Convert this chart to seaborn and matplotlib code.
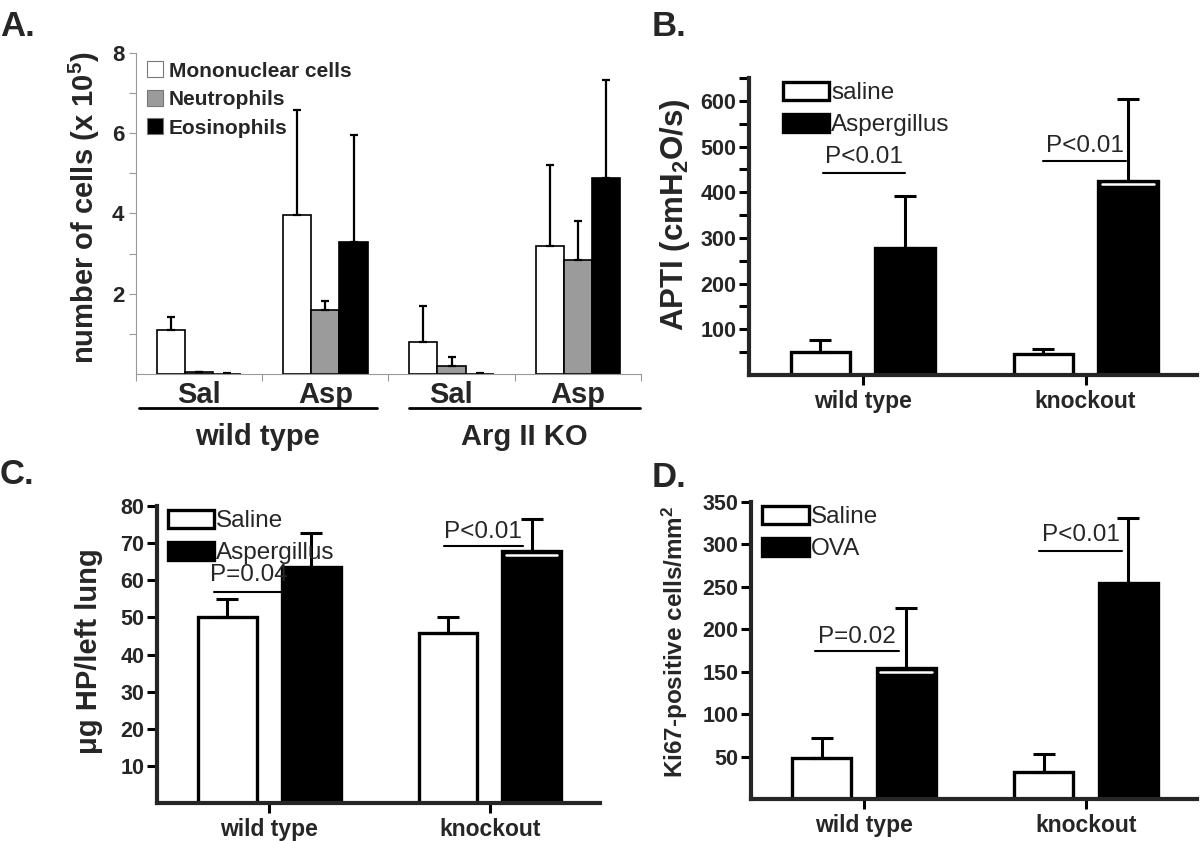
import matplotlib
matplotlib.use("Agg")
import matplotlib.pyplot as plt
from matplotlib.patches import Patch
import seaborn as sns
import pandas as pd

# Panel A: BAL cell counts (x 10^5)
a_groups = ["wt_sal", "wt_asp", "ko_sal", "ko_asp"]
a_ticklabels = ["Sal", "Asp", "Sal", "Asp"]
a_strains = ["wild type", "Arg II KO"]
a_cells = ["Mononuclear cells", "Neutrophils", "Eosinophils"]
a_colors = ["white", "#9b9b9b", "black"]
mono_mean = [1.09, 3.96, 0.80, 3.20]
mono_err = [0.34, 2.63, 0.90, 2.00]
neut_mean = [0.04, 1.59, 0.21, 2.85]
neut_err = [0.0, 0.23, 0.22, 0.96]
eos_mean = [0.0, 3.28, 0.0, 4.88]
eos_err = [0.03, 2.67, 0.03, 2.45]

# Panels B-D: wild type vs knockout
strains = ["wild type", "knockout"]

apti_sal = [51, 46]
apti_sal_err = [26, 12]
apti_asp = [277, 425]
apti_asp_err = [115, 179]
apti_p = ["P<0.01", "P<0.01"]

hp_sal = [50.0, 45.7]
hp_sal_err = [4.9, 4.3]
hp_asp = [63.7, 67.9]
hp_asp_err = [8.9, 8.7]
hp_p = ["P=0.04", "P<0.01"]

ki_sal = [48, 32]
ki_sal_err = [24, 21]
ki_ova = [155, 255]
ki_ova_err = [70, 76]
ki_p = ["P=0.02", "P<0.01"]

sns.set_style("ticks")
plt.rcParams["font.family"] = ["Liberation Sans", "DejaVu Sans"]
plt.rcParams["mathtext.default"] = "regular"

fig = plt.figure(figsize=(12, 8.41), dpi=100)


def add_upper_errors(ax, errs, lw, capsize):
    for cont, err in zip(ax.containers, errs):
        for bar, e in zip(cont, err):
            x = bar.get_x() + bar.get_width() / 2
            y = bar.get_height()
            ax.errorbar(x, y, yerr=[[0], [e]], fmt="none", ecolor="black",
                        elinewidth=lw, capsize=capsize, capthick=lw, zorder=1)


# ---------------- A ----------------
axA = fig.add_axes([0.1133, 0.5553, 0.4208, 0.3817])
dfA = pd.DataFrame({
    "group": a_groups * 3,
    "cell": [c for c in a_cells for _ in a_groups],
    "value": mono_mean + neut_mean + eos_mean,
})
sns.barplot(data=dfA, x="group", y="value", hue="cell", order=a_groups,
            hue_order=a_cells, palette=a_colors, width=0.67, gap=0,
            edgecolor="black", linewidth=1.2, errorbar=None, legend=False, ax=axA)
add_upper_errors(axA, [mono_err, neut_err, eos_err], 1.6, 3)
axA.set_xlim(-0.5, 3.5)
axA.set_ylim(0, 8)
axA.set_yticks([2, 4, 6, 8])
axA.set_yticks([1, 3, 5, 7], minor=True)
axA.set_xticks(range(4))
axA.set_xticklabels(a_ticklabels, fontsize=21, fontweight="bold")
axA.set_xticks([-0.5, 0.5, 1.5, 2.5, 3.5], minor=True)
axA.tick_params(axis="x", which="major", length=0, pad=5)
axA.tick_params(axis="x", which="minor", length=5, color="#999999", width=0.8)
axA.tick_params(axis="y", which="both", length=5, color="#999999", width=0.8,
                labelsize=16)
for t in axA.get_yticklabels():
    t.set_fontweight("bold")
for s in ["top", "right"]:
    axA.spines[s].set_visible(False)
for s in ["left", "bottom"]:
    axA.spines[s].set_color("#999999")
    axA.spines[s].set_linewidth(0.8)
axA.set_xlabel("")
axA.set_ylabel("number of cells (x 10$^{5}$)", fontsize=21, fontweight="bold")
axA.yaxis.set_label_coords(-0.068, 0.517)
# strain lines and labels under the Sal/Asp labels
for i, name in enumerate(a_strains):
    x0, x1 = (0.006, 0.477) if i == 0 else (0.541, 0.998)
    axA.plot([x0, x1], [-0.106, -0.106], transform=axA.transAxes,
             color="black", lw=2, clip_on=False)
    axA.text((x0 + x1) / 2, -0.196, name, transform=axA.transAxes,
             ha="center", va="center", fontsize=21, fontweight="bold")
handlesA = [Patch(facecolor=c, edgecolor="#777777", linewidth=0.8) for c in a_colors]
axA.legend(handlesA, a_cells, loc="upper left", bbox_to_anchor=(0.005, 1.0),
           frameon=False, prop={"size": 15, "weight": "bold"},
           handlelength=0.8, handleheight=0.8, handletextpad=0.25, labelspacing=0.45,
           borderaxespad=0.0)


# ---------------- B, C, D ----------------
def two_group_panel(rect, means, errs, treat, ylim, majors, minors, ylabel,
                    ylabel_size, ylabel_xy, pvals, p_text_y, p_line, white_hue,
                    white_off, leg_x):
    ax = fig.add_axes(rect)
    df = pd.DataFrame({
        "strain": strains * 2,
        "treat": [t for t in treat for _ in strains],
        "value": means[0] + means[1],
    })
    sns.barplot(data=df, x="strain", y="value", hue="treat", order=strains,
                hue_order=treat, palette=["white", "black"], width=0.76, gap=0.3,
                edgecolor="black", linewidth=2.4, errorbar=None, legend=False, ax=ax)
    add_upper_errors(ax, errs, 2.2, 8)
    # thin white mark just under the top of some black bars
    for j, flag in enumerate(white_hue):
        if flag:
            bar = ax.containers[1][j]
            x0 = bar.get_x() + bar.get_width() * 0.06
            x1 = bar.get_x() + bar.get_width() * 0.94
            ax.plot([x0, x1], [bar.get_height() - white_off] * 2, color="white",
                    lw=1.8, zorder=3)
    ax.set_xlim(-0.51, 1.5)
    ax.set_ylim(*ylim)
    ax.set_yticks(majors)
    ax.set_yticks(minors, minor=True)
    ax.set_xticks([0, 1])
    ax.set_xticklabels(strains, fontsize=16.5, fontweight="bold")
    ax.tick_params(axis="both", which="both", length=7, width=2.2, direction="out",
                   color="black")
    ax.tick_params(axis="y", labelsize=15.5, pad=2)
    ax.tick_params(axis="x", pad=4)
    for t in ax.get_yticklabels():
        t.set_fontweight("bold")
    for s in ["top", "right"]:
        ax.spines[s].set_visible(False)
    for s in ["left", "bottom"]:
        ax.spines[s].set_linewidth(3)
    ax.set_xlabel("")
    ax.set_ylabel(ylabel, fontsize=ylabel_size, fontweight="bold")
    ax.yaxis.set_label_coords(*ylabel_xy)
    for j, p in enumerate(pvals):
        lx0, lx1, ly = p_line[j]
        ax.plot([j + lx0, j + lx1], [ly, ly], color="black", lw=1.5)
        ax.text(j + (lx0 + lx1) / 2, p_text_y[j], p, ha="center", va="center",
                fontsize=17.5)
    handles = [Patch(facecolor=c, edgecolor="black", linewidth=2.4)
               for c in ["white", "black"]]
    ax.legend(handles, treat, loc="upper left", bbox_to_anchor=(leg_x, 1.02),
              frameon=False, prop={"size": 17.5}, handlelength=1.9,
              handleheight=0.75, handletextpad=0.1, labelspacing=0.4,
              borderaxespad=0.0)
    return ax


axB = two_group_panel([0.6242, 0.5541, 0.3733, 0.3531],
                      [apti_sal, apti_asp], [apti_sal_err, apti_asp_err],
                      ["saline", "Aspergillus"], (0, 650),
                      [100, 200, 300, 400, 500, 600], [50, 150, 250, 350, 450, 550, 650],
                      "APTI (cmH$_2$O/s)", 22.5, (-0.127, 0.54),
                      apti_p, [478, 502], [(-0.18, 0.19, 442), (-0.19, 0.18, 469)],
                      [False, True], 7, 0.053)

axC = two_group_panel([0.1308, 0.0452, 0.3692, 0.3531],
                      [hp_sal, hp_asp], [hp_sal_err, hp_asp_err],
                      ["Saline", "Aspergillus"], (0, 80),
                      [10, 20, 30, 40, 50, 60, 70, 80], [],
                      "μg HP/left lung", 21, (-0.122, 0.51),
                      hp_p, [61.4, 73.1], [(-0.25, 0.06, 56.9), (-0.21, 0.15, 69.1)],
                      [False, True], 1.1, 0.002)

axD = two_group_panel([0.6258, 0.0499, 0.3717, 0.3531],
                      [ki_sal, ki_ova], [ki_sal_err, ki_ova_err],
                      ["Saline", "OVA"], (0, 350),
                      [50, 100, 150, 200, 250, 300, 350], [],
                      "Ki67-positive cells/mm$^2$", 17.5, (-0.137, 0.53),
                      ki_p, [191, 311], [(-0.22, 0.155, 174.5), (-0.21, 0.16, 292)],
                      [True, False], 5, 0.004)

# panel letters
for x, y, letter in [(0.0, 0.988, "A."), (0.543, 0.988, "B."),
                     (0.0, 0.455, "C."), (0.543, 0.452, "D.")]:
    fig.text(x, y, letter, ha="left", va="top", fontsize=25, fontweight="bold")

fig.savefig("out.png", dpi=100, facecolor="white")
